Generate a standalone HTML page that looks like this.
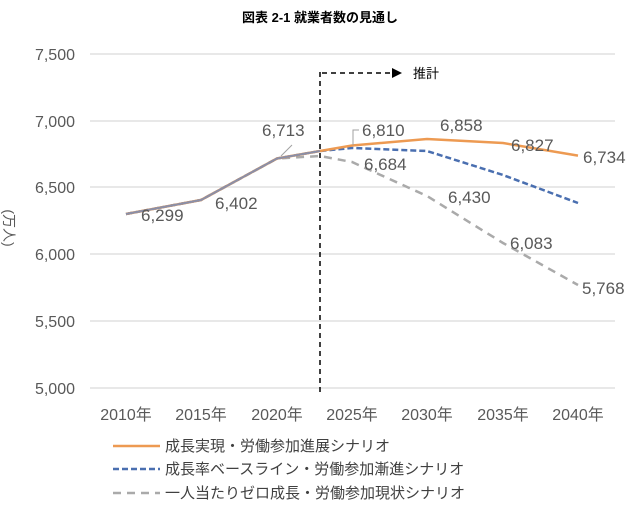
<!DOCTYPE html>
<html><head><meta charset="utf-8"><style>
body{margin:0;background:#fff}
text{font-family:"Liberation Sans","Noto Sans CJK JP",sans-serif}
</style></head><body>
<svg width="640" height="511" viewBox="0 0 640 511">
<text x="320" y="22" font-size="13" font-weight="bold" text-anchor="middle" fill="#000">図表 2-1  就業者数の見通し</text>
<g stroke="#d9d9d9" stroke-width="1.3">
<line x1="90" x2="615" y1="54" y2="54"/><line x1="90" x2="615" y1="121" y2="121"/>
<line x1="90" x2="615" y1="187" y2="187"/><line x1="90" x2="615" y1="254" y2="254"/>
<line x1="90" x2="615" y1="321" y2="321"/><line x1="90" x2="615" y1="388" y2="388"/>
</g>
<g font-size="16" fill="#595959" text-anchor="end">
<text x="75" y="60">7,500</text><text x="75" y="127">7,000</text><text x="75" y="193">6,500</text>
<text x="75" y="260">6,000</text><text x="75" y="327">5,500</text><text x="75" y="394">5,000</text>
</g>
<text transform="translate(4,228) rotate(90)" font-size="14" fill="#595959" text-anchor="middle">(万人)</text>
<g font-size="16" fill="#595959" text-anchor="middle">
<text x="126" y="420">2010年</text><text x="201" y="420">2015年</text><text x="277" y="420">2020年</text>
<text x="352" y="420">2025年</text><text x="427" y="420">2030年</text><text x="503" y="420">2035年</text><text x="578" y="420">2040年</text>
</g>
<line x1="320" y1="72" x2="320" y2="395" stroke="#000" stroke-width="1.5" stroke-dasharray="5,4"/>
<line x1="322" y1="73" x2="392" y2="73" stroke="#000" stroke-width="1.5" stroke-dasharray="5,4"/>
<polygon points="392,68 402,73 392,78" fill="#000"/>
<text x="413" y="78" font-size="13" fill="#000">推計</text>
<polyline fill="none" stroke="#aaaaaa" stroke-width="2.5" stroke-dasharray="8,6" points="126,214 201,200 277,158.5 320,156 352,162 427,196 503,243 578,285"/>
<polyline fill="none" stroke="#4a6fb0" stroke-width="2.5" stroke-dasharray="6,3" points="126,214 201,200 277,158.5 320,151 352,148 427,151 503,175 578,203"/>
<polyline fill="none" stroke="#ed9a52" stroke-width="2.5" points="126,214 201,200 277,158.5 320,151 352,145.5 427,139 503,143 578,155.6"/>
<polyline fill="none" stroke="#8a8fa8" stroke-width="2" points="126,214 201,200 277,158.5 320,151"/>
<g font-size="17" fill="#595959">
<text x="141" y="221">6,299</text><text x="215" y="209">6,402</text>
<text x="262" y="136">6,713</text>
<text x="362" y="136">6,810</text><text x="440" y="131">6,858</text>
<text x="511" y="151">6,827</text><text x="583" y="163">6,734</text>
<text x="364" y="170">6,684</text><text x="448" y="203">6,430</text>
<text x="510" y="249">6,083</text><text x="582" y="294">5,768</text>
</g>
<line x1="281" y1="156" x2="292" y2="145" stroke="#a0a0a0"/>
<path d="M353,145 L353,130 L359,130" fill="none" stroke="#a0a0a0"/>
<g font-size="15" fill="#404040">
<line x1="113" y1="446" x2="160" y2="446" stroke="#ed9a52" stroke-width="2.5"/>
<text x="165" y="451">成長実現・労働参加進展シナリオ</text>
<line x1="113" y1="469" x2="160" y2="469" stroke="#4a6fb0" stroke-width="2.5" stroke-dasharray="6,3"/>
<text x="165" y="474">成長率ベースライン・労働参加漸進シナリオ</text>
<line x1="113" y1="493" x2="160" y2="493" stroke="#aaaaaa" stroke-width="2.5" stroke-dasharray="8,6"/>
<text x="165" y="498">一人当たりゼロ成長・労働参加現状シナリオ</text>
</g>
</svg>
</body></html>
